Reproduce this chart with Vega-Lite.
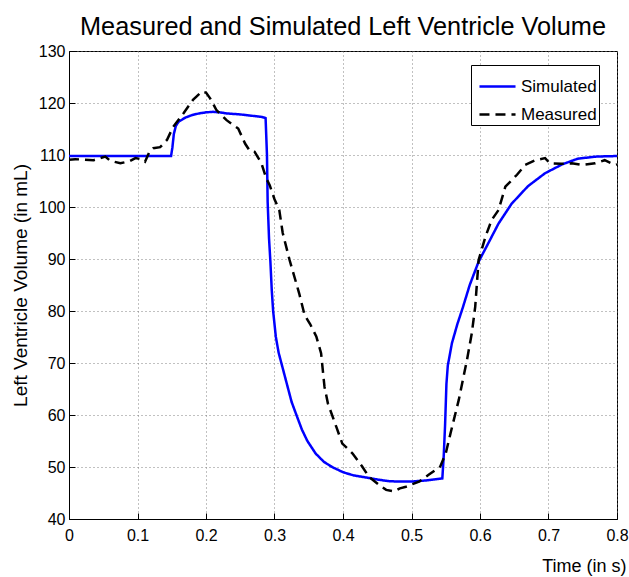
{
  "$schema": "https://vega.github.io/schema/vega-lite/v6.json",
  "width": 548,
  "height": 468,
  "autosize": "none",
  "padding": {"left": 69, "top": 51, "right": 12, "bottom": 58},
  "background": "white",
  "title": {
    "text": "Measured and Simulated Left Ventricle Volume",
    "font": "Liberation Sans",
    "fontSize": 25.3,
    "fontWeight": "normal",
    "color": "black",
    "baseline": "alphabetic",
    "offset": 16,
    "dy": 33,
    "anchor": "middle"
  },
  "config": {
    "view": {"stroke": "black", "strokeWidth": 1},
    "font": "Liberation Sans",
    "axis": {
      "domainColor": "black",
      "tickColor": "black",
      "labelColor": "black",
      "titleColor": "black",
      "labelFont": "Liberation Sans",
      "titleFont": "Liberation Sans",
      "labelFontSize": 16,
      "titleFontSize": 18,
      "titleFontWeight": "normal",
      "gridColor": "#777777",
      "gridDash": [1, 3],
      "gridOpacity": 0.9,
      "tickSize": -6
    }
  },
  "data": {
    "values": [
      {"t": 0.0, "v": 109.8, "s": "Simulated"},
      {"t": 0.149, "v": 109.8, "s": "Simulated"},
      {"t": 0.151, "v": 111.5, "s": "Simulated"},
      {"t": 0.153, "v": 114.0, "s": "Simulated"},
      {"t": 0.156, "v": 115.6, "s": "Simulated"},
      {"t": 0.16, "v": 116.4, "s": "Simulated"},
      {"t": 0.17, "v": 117.2, "s": "Simulated"},
      {"t": 0.18, "v": 117.7, "s": "Simulated"},
      {"t": 0.19, "v": 118.0, "s": "Simulated"},
      {"t": 0.2, "v": 118.2, "s": "Simulated"},
      {"t": 0.21, "v": 118.3, "s": "Simulated"},
      {"t": 0.22, "v": 118.2, "s": "Simulated"},
      {"t": 0.23, "v": 118.0, "s": "Simulated"},
      {"t": 0.25, "v": 117.8, "s": "Simulated"},
      {"t": 0.27, "v": 117.5, "s": "Simulated"},
      {"t": 0.282, "v": 117.3, "s": "Simulated"},
      {"t": 0.287, "v": 117.1, "s": "Simulated"},
      {"t": 0.289, "v": 110.0, "s": "Simulated"},
      {"t": 0.29, "v": 101.0, "s": "Simulated"},
      {"t": 0.292, "v": 94.0, "s": "Simulated"},
      {"t": 0.294, "v": 89.5, "s": "Simulated"},
      {"t": 0.296, "v": 84.0, "s": "Simulated"},
      {"t": 0.298, "v": 80.0, "s": "Simulated"},
      {"t": 0.302, "v": 75.0, "s": "Simulated"},
      {"t": 0.306, "v": 72.0, "s": "Simulated"},
      {"t": 0.311, "v": 69.5, "s": "Simulated"},
      {"t": 0.318, "v": 66.0, "s": "Simulated"},
      {"t": 0.325, "v": 62.5, "s": "Simulated"},
      {"t": 0.332, "v": 60.0, "s": "Simulated"},
      {"t": 0.34, "v": 57.2, "s": "Simulated"},
      {"t": 0.348, "v": 55.0, "s": "Simulated"},
      {"t": 0.36, "v": 52.6, "s": "Simulated"},
      {"t": 0.372, "v": 51.0, "s": "Simulated"},
      {"t": 0.384, "v": 50.0, "s": "Simulated"},
      {"t": 0.4, "v": 49.0, "s": "Simulated"},
      {"t": 0.415, "v": 48.4, "s": "Simulated"},
      {"t": 0.433, "v": 48.0, "s": "Simulated"},
      {"t": 0.45, "v": 47.6, "s": "Simulated"},
      {"t": 0.465, "v": 47.3, "s": "Simulated"},
      {"t": 0.48, "v": 47.2, "s": "Simulated"},
      {"t": 0.5, "v": 47.2, "s": "Simulated"},
      {"t": 0.52, "v": 47.4, "s": "Simulated"},
      {"t": 0.545, "v": 47.8, "s": "Simulated"},
      {"t": 0.547, "v": 52.0, "s": "Simulated"},
      {"t": 0.549, "v": 58.0, "s": "Simulated"},
      {"t": 0.551, "v": 66.0, "s": "Simulated"},
      {"t": 0.553, "v": 69.5, "s": "Simulated"},
      {"t": 0.559, "v": 73.8, "s": "Simulated"},
      {"t": 0.567, "v": 77.5, "s": "Simulated"},
      {"t": 0.575, "v": 80.7, "s": "Simulated"},
      {"t": 0.585, "v": 85.0, "s": "Simulated"},
      {"t": 0.598, "v": 89.5, "s": "Simulated"},
      {"t": 0.61, "v": 92.5, "s": "Simulated"},
      {"t": 0.627, "v": 96.8, "s": "Simulated"},
      {"t": 0.646, "v": 100.6, "s": "Simulated"},
      {"t": 0.67, "v": 104.0, "s": "Simulated"},
      {"t": 0.695, "v": 106.5, "s": "Simulated"},
      {"t": 0.72, "v": 108.2, "s": "Simulated"},
      {"t": 0.743, "v": 109.3, "s": "Simulated"},
      {"t": 0.77, "v": 109.7, "s": "Simulated"},
      {"t": 0.8, "v": 109.8, "s": "Simulated"},
      {"t": 0.0, "v": 109.1, "s": "Measured"},
      {"t": 0.009, "v": 109.2, "s": "Measured"},
      {"t": 0.036, "v": 109.0, "s": "Measured"},
      {"t": 0.053, "v": 109.7, "s": "Measured"},
      {"t": 0.06, "v": 108.9, "s": "Measured"},
      {"t": 0.075, "v": 108.4, "s": "Measured"},
      {"t": 0.088, "v": 108.8, "s": "Measured"},
      {"t": 0.097, "v": 109.4, "s": "Measured"},
      {"t": 0.105, "v": 109.2, "s": "Measured"},
      {"t": 0.111, "v": 108.7, "s": "Measured"},
      {"t": 0.117, "v": 110.5, "s": "Measured"},
      {"t": 0.123, "v": 111.3, "s": "Measured"},
      {"t": 0.133, "v": 111.5, "s": "Measured"},
      {"t": 0.143, "v": 112.9, "s": "Measured"},
      {"t": 0.152, "v": 115.4, "s": "Measured"},
      {"t": 0.167, "v": 118.0, "s": "Measured"},
      {"t": 0.181, "v": 120.6, "s": "Measured"},
      {"t": 0.194, "v": 122.2, "s": "Measured"},
      {"t": 0.2, "v": 122.0, "s": "Measured"},
      {"t": 0.206, "v": 120.9, "s": "Measured"},
      {"t": 0.215, "v": 118.7, "s": "Measured"},
      {"t": 0.23, "v": 116.7, "s": "Measured"},
      {"t": 0.247, "v": 115.1, "s": "Measured"},
      {"t": 0.257, "v": 112.2, "s": "Measured"},
      {"t": 0.264, "v": 110.8, "s": "Measured"},
      {"t": 0.271, "v": 110.6, "s": "Measured"},
      {"t": 0.281, "v": 108.4, "s": "Measured"},
      {"t": 0.288, "v": 105.5, "s": "Measured"},
      {"t": 0.293, "v": 104.2, "s": "Measured"},
      {"t": 0.3, "v": 101.5, "s": "Measured"},
      {"t": 0.307, "v": 99.4, "s": "Measured"},
      {"t": 0.312, "v": 95.0, "s": "Measured"},
      {"t": 0.322, "v": 89.8, "s": "Measured"},
      {"t": 0.336, "v": 83.4, "s": "Measured"},
      {"t": 0.344, "v": 79.2, "s": "Measured"},
      {"t": 0.352, "v": 77.5, "s": "Measured"},
      {"t": 0.361, "v": 75.1, "s": "Measured"},
      {"t": 0.368, "v": 71.9, "s": "Measured"},
      {"t": 0.373, "v": 65.4, "s": "Measured"},
      {"t": 0.378, "v": 62.2, "s": "Measured"},
      {"t": 0.39, "v": 57.8, "s": "Measured"},
      {"t": 0.399, "v": 54.5, "s": "Measured"},
      {"t": 0.414, "v": 52.6, "s": "Measured"},
      {"t": 0.428, "v": 50.1, "s": "Measured"},
      {"t": 0.438, "v": 48.1, "s": "Measured"},
      {"t": 0.453, "v": 46.5, "s": "Measured"},
      {"t": 0.463, "v": 45.6, "s": "Measured"},
      {"t": 0.475, "v": 45.3, "s": "Measured"},
      {"t": 0.483, "v": 45.9, "s": "Measured"},
      {"t": 0.492, "v": 46.2, "s": "Measured"},
      {"t": 0.511, "v": 47.2, "s": "Measured"},
      {"t": 0.525, "v": 48.5, "s": "Measured"},
      {"t": 0.542, "v": 50.1, "s": "Measured"},
      {"t": 0.55, "v": 52.6, "s": "Measured"},
      {"t": 0.557, "v": 56.5, "s": "Measured"},
      {"t": 0.569, "v": 62.9, "s": "Measured"},
      {"t": 0.581, "v": 70.6, "s": "Measured"},
      {"t": 0.588, "v": 75.7, "s": "Measured"},
      {"t": 0.593, "v": 80.8, "s": "Measured"},
      {"t": 0.598, "v": 89.8, "s": "Measured"},
      {"t": 0.608, "v": 94.3, "s": "Measured"},
      {"t": 0.617, "v": 97.5, "s": "Measured"},
      {"t": 0.627, "v": 99.4, "s": "Measured"},
      {"t": 0.637, "v": 103.9, "s": "Measured"},
      {"t": 0.654, "v": 106.2, "s": "Measured"},
      {"t": 0.666, "v": 108.1, "s": "Measured"},
      {"t": 0.681, "v": 109.0, "s": "Measured"},
      {"t": 0.695, "v": 109.4, "s": "Measured"},
      {"t": 0.702, "v": 108.4, "s": "Measured"},
      {"t": 0.719, "v": 108.3, "s": "Measured"},
      {"t": 0.734, "v": 108.4, "s": "Measured"},
      {"t": 0.748, "v": 108.1, "s": "Measured"},
      {"t": 0.768, "v": 108.4, "s": "Measured"},
      {"t": 0.782, "v": 109.0, "s": "Measured"},
      {"t": 0.797, "v": 108.1, "s": "Measured"},
      {"t": 0.8, "v": 108.2, "s": "Measured"}
    ]
  },
  "mark": {"type": "line", "strokeWidth": 2.5, "clip": true},
  "encoding": {
    "x": {
      "field": "t",
      "type": "quantitative",
      "scale": {"domain": [0, 0.8], "nice": false, "zero": false},
      "axis": {
        "title": "Time (in s)",
        "values": [0, 0.1, 0.2, 0.3, 0.4, 0.5, 0.6, 0.7, 0.8],
        "format": "~g",
        "labelPadding": 14,
        "labelFlush": false,
        "titleX": 557,
        "titleY": 52,
        "titleAlign": "right",
        "titleBaseline": "alphabetic",
        "titleAnchor": null
      }
    },
    "y": {
      "field": "v",
      "type": "quantitative",
      "scale": {"domain": [40, 130], "nice": false, "zero": false},
      "axis": {
        "title": "Left Ventricle Volume (in mL)",
        "values": [40, 50, 60, 70, 80, 90, 100, 110, 120, 130],
        "labelPadding": 10,
        "labelFlush": false,
        "titleX": -49,
        "titleY": 234,
        "titleAngle": -90,
        "titleAlign": "center",
        "titleBaseline": "middle",
        "titleFontSize": 19
      }
    },
    "color": {
      "field": "s",
      "type": "nominal",
      "scale": {"domain": ["Simulated", "Measured"], "range": ["#0000ff", "#000000"]},
      "legend": {
        "title": null,
        "orient": "none",
        "legendX": 402,
        "legendY": 14,
        "padding": 2,
        "strokeColor": "black",
        "fillColor": "white",
        "symbolType": "stroke",
        "symbolSize": 1300,
        "symbolOffset": 5,
        "symbolStrokeWidth": 2.5,
        "labelFontSize": 17,
        "labelFont": "Liberation Sans",
        "labelColor": "black",
        "labelOffset": 4,
        "rowPadding": -9.4
      }
    },
    "strokeDash": {
      "field": "s",
      "type": "nominal",
      "scale": {"domain": ["Simulated", "Measured"], "range": [[1, 0], [10, 6]]},
      "legend": null
    }
  }
}
